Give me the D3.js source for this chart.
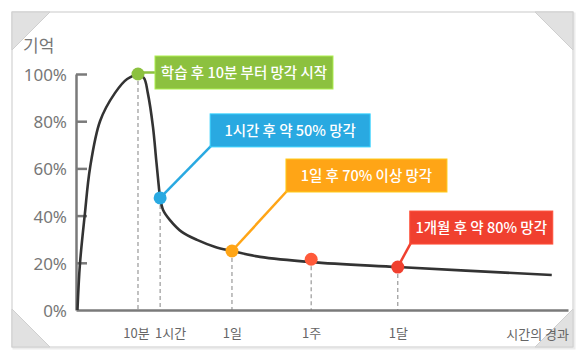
<!DOCTYPE html>
<html>
<head>
<meta charset="utf-8">
<script src="https://cdn.jsdelivr.net/npm/d3@7/dist/d3.min.js"></script>
<style>
  html, body { margin: 0; padding: 0; background: #fff; }
  svg { display: block; font-family: "Noto Sans CJK KR", "Noto Sans", sans-serif; }
</style>
</head>
<body>
<svg id="chart" width="585" height="360"></svg>
<script>
// ---------- data ----------
const yTickValues = [0, 20, 40, 60, 80, 100];
// forgetting curve (x = relative time position 0..100, y = memory %)
const curveX = [0.3, 0.8, 1.8, 2.85, 4.9, 7.9, 10.4, 12.6, 13.8, 14.6, 15.65, 16.3, 16.8, 17.1, 17.7, 19.1, 21.5, 24.6, 28.3, 31.7, 37.4, 47.8, 65.4, 96.7];
const curveY = [0, 19.5, 40.7, 60.2, 80.1, 91.9, 97.9, 99.6, 98.3, 91.9, 77.5, 63.6, 53, 47.5, 42.4, 38.1, 33.1, 29.7, 26.7, 25, 22.5, 20.3, 18.2, 14.8];
const markerLabels = ["10분", "1시간", "1일", "1주", "1달"];
const markerX = [12.6, 17.1, 31.7, 47.8, 65.4];
const markerY = [100, 47.5, 25, 21.5, 18.2];
const noteTexts = ["학습 후 10분 부터 망각 시작", "1시간 후 약 50% 망각", "1일 후 70% 이상 망각", "", "1개월 후 약 80% 망각"];
const yTitle = "기억";
const xTitle = "시간의 경과";

// ---------- styles / layout ----------
const markerColors = ["#8cc13f", "#29a9e1", "#ffa516", "#ff5a3a", "#f0402f"];
// note box offsets relative to the marker: [dx to box left, dy to box bottom, box width]
const noteLayout = [[17, 15, 178], [50, -51, 160], [54, -59, 161], null, [12, -23, 143]];
const boxH = 33;
const labelShift = [-2, 10, 0, 0, 0];

const svg = d3.select("#chart");

// frame
const fx0 = 12, fy0 = 12, fx1 = 573, fy1 = 347, tri = 38;
svg.append("rect").attr("x", fx0 + 1.5).attr("y", fy0 + 1.5).attr("width", fx1 - fx0).attr("height", fy1 - fy0)
  .attr("fill", "none").attr("stroke", "#ececec").attr("stroke-width", 2);
svg.append("rect").attr("x", fx0).attr("y", fy0).attr("width", fx1 - fx0).attr("height", fy1 - fy0)
  .attr("fill", "#fff").attr("stroke", "#dcdcdc").attr("stroke-width", 1.5);
const tris = [
  [[fx0, fy0], [fx0 + tri, fy0], [fx0, fy0 + tri]],
  [[fx1 - tri, fy0], [fx1, fy0], [fx1, fy0 + tri]],
  [[fx0, fy1 - tri], [fx0, fy1], [fx0 + tri, fy1]],
  [[fx1, fy1 - tri], [fx1, fy1], [fx1 - tri, fy1]]
];
svg.selectAll("path.tri").data(tris).join("path").attr("class", "tri")
  .attr("d", d => "M" + d.join("L") + "Z")
  .attr("fill", "#e1e1e1").attr("stroke", "#cfcfcf").attr("stroke-width", 1);

// scales
const x = d3.scaleLinear().domain([0, 100]).range([76, 568]);
const y = d3.scaleLinear().domain([0, 100]).range([310, 74]);

// y axis
const yAxis = svg.append("g").attr("transform", `translate(${x(0)},0)`)
  .call(d3.axisLeft(y).tickValues(yTickValues).tickFormat(d => d + "%").tickSize(-11).tickSizeOuter(0).tickPadding(9));
yAxis.select(".domain").attr("stroke", "#7a7a7a").attr("stroke-width", 2.5);
yAxis.selectAll(".tick line").attr("stroke", "#7a7a7a").attr("stroke-width", 2.5);
yAxis.selectAll(".tick text").attr("fill", "#777").attr("font-size", 17)
  .attr("font-family", "'Noto Sans', sans-serif").attr("dy", "0.38em");
yAxis.selectAll(".tick").filter(d => d === 0).select("line").remove();

// dashed guide lines
svg.selectAll("line.guide").data(markerX).join("line").attr("class", "guide")
  .attr("x1", d => x(d)).attr("x2", d => x(d))
  .attr("y1", (d, i) => y(markerY[i])).attr("y2", y(0))
  .attr("stroke", "#999").attr("stroke-width", 1.2).attr("stroke-dasharray", "4,3");

// x axis
const xAxis = svg.append("g").attr("transform", `translate(0,${y(0)})`)
  .call(d3.axisBottom(x).tickValues(markerX).tickFormat((d, i) => markerLabels[i]).tickSize(0).tickSizeOuter(0).tickPadding(19));
xAxis.select(".domain").attr("stroke", "#7a7a7a").attr("stroke-width", 2.5);
xAxis.selectAll(".tick text").attr("fill", "#666").attr("font-size", 13)
  .attr("font-family", "'Noto Sans CJK KR', sans-serif")
  .attr("dx", (d, i) => labelShift[i]);

// titles
svg.append("text").attr("x", 23).attr("y", 52).text(yTitle)
  .attr("fill", "#777").attr("font-size", 17);
svg.append("text").attr("x", 569).attr("y", 339).attr("text-anchor", "end").text(xTitle)
  .attr("fill", "#666").attr("font-size", 13);

// curve
const line = d3.line().x(d => x(d[0])).y(d => y(d[1])).curve(d3.curveCatmullRom.alpha(0.5));
svg.append("path").datum(d3.zip(curveX, curveY)).attr("d", line)
  .attr("fill", "none").attr("stroke", "#333").attr("stroke-width", 2.6);

// notes
markerX.forEach((mx, i) => {
  const L = noteLayout[i];
  if (!L) return;
  const px = x(mx), py = y(markerY[i]);
  const bx = px + L[0], bBottom = py + L[1], bw = L[2];
  const by = bBottom - boxH;
  const g = svg.append("g");
  if (i === 0) {
    g.append("line").attr("x1", px).attr("y1", by + boxH / 2).attr("x2", bx).attr("y2", by + boxH / 2)
      .attr("stroke", markerColors[i]).attr("stroke-width", 2.5);
  } else {
    g.append("line").attr("x1", px).attr("y1", py).attr("x2", bx + 1).attr("y2", bBottom - 1)
      .attr("stroke", markerColors[i]).attr("stroke-width", 2.5);
  }
  g.append("rect").attr("x", bx).attr("y", by).attr("width", bw).attr("height", boxH)
    .attr("fill", markerColors[i]).attr("stroke", d3.color(markerColors[i]).brighter(0.6)).attr("stroke-width", 1);
  g.append("text").attr("x", bx + bw / 2).attr("y", by + boxH / 2).attr("dy", "0.36em")
    .attr("text-anchor", "middle").attr("fill", "#fff").attr("font-size", 14.5).attr("font-weight", 500)
    .text(noteTexts[i]);
});

// markers
svg.selectAll("circle.marker").data(markerX).join("circle").attr("class", "marker")
  .attr("cx", d => x(d)).attr("cy", (d, i) => y(markerY[i])).attr("r", 6.5)
  .attr("fill", (d, i) => markerColors[i]);
</script>
</body>
</html>
